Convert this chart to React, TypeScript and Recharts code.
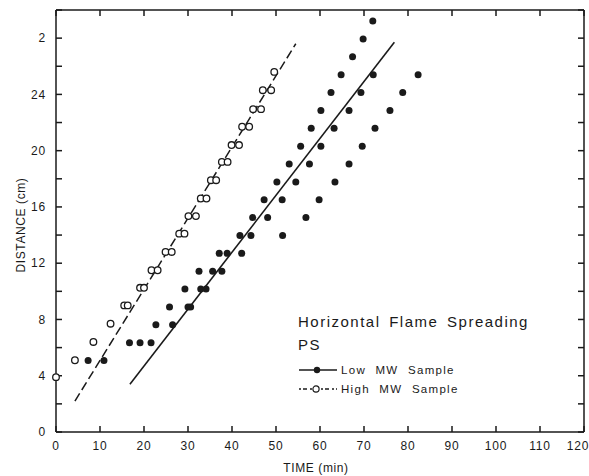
import React from 'react';
import { ScatterChart, Scatter, XAxis, YAxis, ReferenceLine, Legend } from 'recharts';

// Low MW sample: time (min) vs flame front distance (cm)
const lowMW = [
  { t: 7.3, d: 5.08 }, { t: 10.9, d: 5.08 },
  { t: 16.7, d: 6.35 }, { t: 19.1, d: 6.35 }, { t: 21.6, d: 6.35 },
  { t: 22.7, d: 7.62 }, { t: 26.5, d: 7.62 },
  { t: 25.8, d: 8.89 }, { t: 30.0, d: 8.89 }, { t: 30.6, d: 8.89 },
  { t: 29.3, d: 10.16 }, { t: 32.9, d: 10.16 }, { t: 34.1, d: 10.16 },
  { t: 32.5, d: 11.43 }, { t: 35.6, d: 11.43 }, { t: 37.7, d: 11.43 },
  { t: 37.1, d: 12.7 }, { t: 38.9, d: 12.7 }, { t: 42.2, d: 12.7 },
  { t: 41.8, d: 13.97 }, { t: 44.3, d: 13.97 }, { t: 51.5, d: 13.97 },
  { t: 44.7, d: 15.24 }, { t: 48.1, d: 15.24 }, { t: 56.8, d: 15.24 },
  { t: 47.3, d: 16.51 }, { t: 51.4, d: 16.51 }, { t: 59.8, d: 16.51 },
  { t: 50.2, d: 17.78 }, { t: 54.5, d: 17.78 }, { t: 63.4, d: 17.78 },
  { t: 53.0, d: 19.05 }, { t: 57.6, d: 19.05 }, { t: 66.6, d: 19.05 },
  { t: 55.6, d: 20.32 }, { t: 60.2, d: 20.32 }, { t: 69.6, d: 20.32 },
  { t: 58.0, d: 21.59 }, { t: 63.2, d: 21.59 }, { t: 72.5, d: 21.59 },
  { t: 60.2, d: 22.86 }, { t: 66.6, d: 22.86 }, { t: 75.9, d: 22.86 },
  { t: 62.5, d: 24.13 }, { t: 69.3, d: 24.13 }, { t: 78.8, d: 24.13 },
  { t: 64.8, d: 25.4 }, { t: 72.1, d: 25.4 }, { t: 82.3, d: 25.4 },
  { t: 67.4, d: 26.67 },
  { t: 69.8, d: 27.94 },
  { t: 72.0, d: 29.21 },
];

// High MW sample
const highMW = [
  { t: 0, d: 3.9 },
  { t: 4.3, d: 5.1 },
  { t: 8.5, d: 6.4 },
  { t: 12.4, d: 7.7 },
  { t: 15.5, d: 9.0 }, { t: 16.3, d: 9.0 },
  { t: 19.1, d: 10.25 }, { t: 20.0, d: 10.25 },
  { t: 21.7, d: 11.5 }, { t: 23.1, d: 11.5 },
  { t: 24.9, d: 12.8 }, { t: 26.3, d: 12.8 },
  { t: 28.0, d: 14.1 }, { t: 29.2, d: 14.1 },
  { t: 30.1, d: 15.35 }, { t: 31.8, d: 15.35 },
  { t: 32.9, d: 16.6 }, { t: 34.2, d: 16.6 },
  { t: 35.2, d: 17.9 }, { t: 36.4, d: 17.9 },
  { t: 37.7, d: 19.2 }, { t: 39.0, d: 19.2 },
  { t: 39.9, d: 20.4 }, { t: 41.6, d: 20.4 },
  { t: 42.3, d: 21.7 }, { t: 43.9, d: 21.7 },
  { t: 44.8, d: 22.95 }, { t: 46.6, d: 22.95 },
  { t: 47.0, d: 24.3 }, { t: 48.9, d: 24.3 },
  { t: 49.6, d: 25.6 },
];

// fitted lines (end points)
const lowFit = [{ t: 16.8, d: 3.4 }, { t: 76.9, d: 27.7 }];
const highFit = [{ t: 4.3, d: 2.2 }, { t: 54.5, d: 27.6 }];

const timeTicks = [0, 10, 20, 30, 40, 50, 60, 70, 80, 90, 100, 110, 120];
const distTicks = [0, 2, 4, 6, 8, 10, 12, 14, 16, 18, 20, 22, 24, 26, 28, 30];

const INK = '#1a1a1a';
const FONT = '"Liberation Sans", Arial, sans-serif';

const distLabel = (v: number) => {
  if (v % 4 !== 0) return '';
  return v === 28 ? '2' : String(v);
};

const FilledDot = (props: any) => (
  <circle cx={props.cx} cy={props.cy} r={3.5} fill={INK} />
);
const OpenDot = (props: any) => (
  <circle cx={props.cx} cy={props.cy} r={3.3} fill="#fff" stroke={INK} strokeWidth={1.3} />
);
const NoDot = () => <g />;

// last label is pulled in so it stays on the page, as in the original
const TimeTick = (props: any) => {
  const { x, y, payload } = props;
  const shift = payload.value === 120 ? -6 : 0;
  return (
    <text x={x + shift} y={y} dy="0.71em" textAnchor="middle" fontSize={12} fill={INK}
      fontFamily={FONT} letterSpacing={0.8}>
      {payload.value}
    </text>
  );
};

const YTitle = (props: any) => {
  const { viewBox } = props;
  const cx = 21;
  const cy = viewBox.y + viewBox.height / 2 + 4;
  return (
    <text x={cx} y={cy} transform={`rotate(-90 ${cx} ${cy})`} textAnchor="middle"
      dominantBaseline="central" fontSize={12} fill={INK} fontFamily={FONT} letterSpacing={0.6}>
      DISTANCE (cm)
    </text>
  );
};

const XTitle = (props: any) => {
  const { viewBox } = props;
  const cx = viewBox.x + viewBox.width / 2 - 4;
  return (
    <text x={cx} y={472} textAnchor="middle" fontSize={12} fill={INK} fontFamily={FONT} letterSpacing={0.6}>
      TIME (min)
    </text>
  );
};

const rowText = { fontSize: 11.5, letterSpacing: 1.3, wordSpacing: 5, whiteSpace: 'nowrap' as const };

const LegendBox = () => (
  <div style={{ fontFamily: FONT, color: INK }}>
    <div style={{ fontSize: 15, letterSpacing: 1.5, wordSpacing: 3, lineHeight: '23px', whiteSpace: 'nowrap' }}>
      Horizontal Flame Spreading
    </div>
    <div style={{ fontSize: 15, letterSpacing: 1.5, lineHeight: '23px' }}>PS</div>
    <div style={{ height: 4 }} />
    <div style={{ display: 'flex', alignItems: 'center', height: 19 }}>
      <svg width={43} height={12}>
        <line x1={1} y1={6} x2={39} y2={6} stroke={INK} strokeWidth={1.3} />
        <circle cx={19} cy={6} r={3.2} fill={INK} />
      </svg>
      <span style={rowText}>Low MW Sample</span>
    </div>
    <div style={{ display: 'flex', alignItems: 'center', height: 19 }}>
      <svg width={43} height={12}>
        <line x1={1} y1={6} x2={39} y2={6} stroke={INK} strokeWidth={1.3} strokeDasharray="2 2 4 3" />
        <circle cx={18} cy={6} r={3.1} fill="#fff" stroke={INK} strokeWidth={1.2} />
      </svg>
      <span style={rowText}>High MW Sample</span>
    </div>
  </div>
);

const tickStyle = { fontSize: 12, fill: INK, fontFamily: FONT, letterSpacing: 0.8 };
const axisStroke = { stroke: INK, strokeWidth: 1.5 };

export default function App() {
  return (
    <div style={{ position: 'absolute', left: 0, top: 0, width: 589, height: 476, background: '#fff' }}>
      <ScatterChart width={589} height={476} margin={{ top: 9, right: 4, bottom: 0, left: 0 }}>
        <XAxis
          xAxisId="b"
          type="number"
          dataKey="t"
          domain={[0, 120]}
          ticks={timeTicks}
          interval={0}
          height={44}
          tickSize={-6}
          tickMargin={15}
          tick={<TimeTick />}
          axisLine={axisStroke}
          tickLine={axisStroke}
          label={<XTitle />}
        />
        <XAxis
          xAxisId="top"
          orientation="top"
          type="number"
          dataKey="t"
          domain={[0, 120]}
          ticks={timeTicks}
          interval={0}
          height={1}
          tickSize={-6}
          tickFormatter={() => ''}
          axisLine={axisStroke}
          tickLine={axisStroke}
        />
        <YAxis
          yAxisId="l"
          type="number"
          dataKey="d"
          domain={[0, 30]}
          ticks={distTicks}
          interval={0}
          width={56}
          tickSize={-6}
          tickMargin={16}
          tickFormatter={distLabel}
          tick={tickStyle}
          axisLine={axisStroke}
          tickLine={axisStroke}
          label={<YTitle />}
        />
        <YAxis
          yAxisId="r"
          orientation="right"
          type="number"
          dataKey="d"
          domain={[0, 30]}
          ticks={distTicks}
          interval={0}
          width={1}
          tickSize={-6}
          tickFormatter={() => ''}
          axisLine={axisStroke}
          tickLine={axisStroke}
        />
        <ReferenceLine
          xAxisId="b"
          yAxisId="l"
          segment={highFit.map((p) => ({ x: p.t, y: p.d }))}
          stroke={INK}
          strokeWidth={1.5}
          strokeDasharray="9 4"
        />
        <ReferenceLine
          xAxisId="b"
          yAxisId="l"
          segment={lowFit.map((p) => ({ x: p.t, y: p.d }))}
          stroke={INK}
          strokeWidth={1.6}
        />
        {/* invisible series so the top and right frame axes get drawn */}
        <Scatter data={lowFit} xAxisId="top" yAxisId="r" shape={<NoDot />} legendType="none" isAnimationActive={false} />
        <Scatter name="Low MW Sample" data={lowMW} xAxisId="b" yAxisId="l" shape={<FilledDot />} isAnimationActive={false} />
        <Scatter name="High MW Sample" data={highMW} xAxisId="b" yAxisId="l" shape={<OpenDot />} isAnimationActive={false} />
        <Legend
          layout="vertical"
          align="center"
          verticalAlign="middle"
          content={<LegendBox />}
          wrapperStyle={{ left: 298, top: 310, width: 'auto' }}
        />
      </ScatterChart>
    </div>
  );
}
